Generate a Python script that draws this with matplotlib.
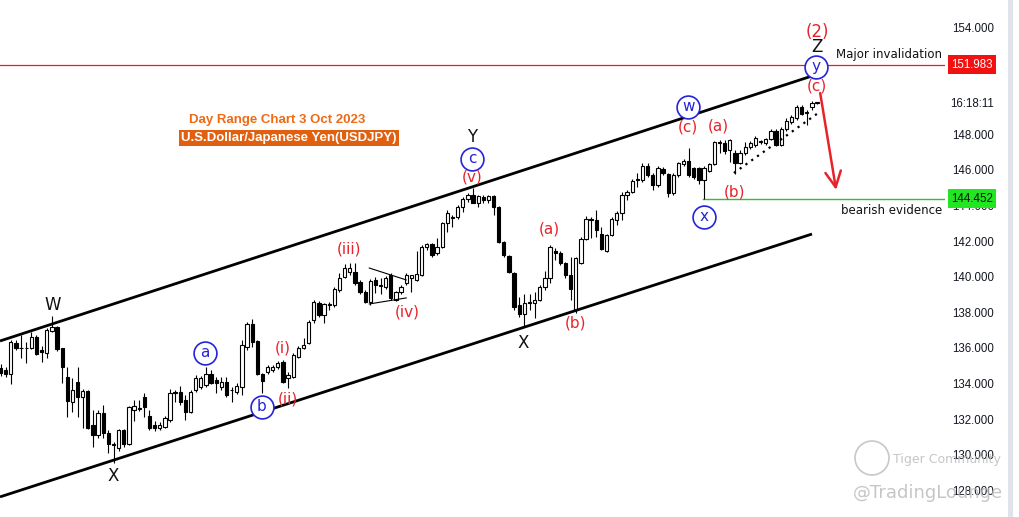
import matplotlib
matplotlib.use("Agg")
import matplotlib.pyplot as plt
from matplotlib.transforms import blended_transform_factory
from matplotlib.patches import Ellipse

# daily candles USDJPY
opens = [134.95, 134.85, 134.6, 136.35, 136.05, 136.1, 136.05, 136.7, 135.95, 135.8,
         137.05, 137.25, 136.05, 134.45, 133.05, 134.15, 133.3, 133.65, 131.75, 131.2,
         132.4, 131.3, 130.7, 130.45, 131.45, 130.7, 132.6, 132.65, 133.33, 132.26,
         131.75, 131.58, 131.64, 132.03, 133.61, 133.61, 133.16, 132.48, 133.72, 133.89,
         134.0, 134.61, 134.28, 133.89, 134.17, 133.72, 133.61, 133.89, 136.13, 137.43,
         136.47, 134.61, 134.73, 134.84, 135.01, 135.29, 134.39, 134.45, 135.57, 136.08,
         136.36, 137.65, 138.61, 137.93, 138.49, 138.49, 139.34, 140.07, 140.35, 140.35,
         139.79, 139.22, 138.66, 139.9, 139.56, 139.51, 140.18, 138.78, 139.22, 139.73,
         140.01, 139.9, 140.18, 141.75, 141.92, 141.42, 141.75, 143.1, 143.38, 143.44,
         144.0, 144.45, 144.67, 144.22, 144.56, 144.39, 144.62, 144.0, 142.03, 141.25,
         140.29, 138.49, 137.99, 138.61, 138.61, 138.78, 139.51, 140.01, 141.53, 141.42,
         140.85, 140.18, 138.21, 140.85, 142.2, 143.27, 143.27, 142.48, 141.53, 142.43,
         143.27, 143.66, 144.67, 144.84, 145.52, 145.52, 146.3, 145.8, 145.24, 146.13,
         145.85, 144.78, 145.8, 146.41, 146.58, 146.19, 146.19, 145.52, 146.02, 146.41,
         147.59, 147.59, 147.2, 147.03, 146.47, 147.03, 147.37, 147.48, 147.65, 147.59,
         147.82, 148.27, 147.48, 148.38, 148.78, 149.0, 149.62, 149.28, 149.62, 149.84]
highs = [135.2, 135.0, 136.5, 136.5, 136.8, 136.4, 137.0, 136.8, 136.2, 137.2,
         137.9, 137.3, 136.1, 135.0, 134.4, 135.0, 133.8, 133.7, 132.6, 132.6,
         132.85, 131.45, 130.8, 131.55, 131.55, 132.8, 133.15, 133.15, 133.55, 132.59,
         131.95, 131.9, 132.26, 133.8, 133.72, 133.95, 133.44, 133.72, 134.56, 134.5,
         135.01, 134.84, 134.45, 134.45, 134.45, 133.89, 134.11, 136.53, 137.54, 137.71,
         136.5, 134.67, 135.12, 135.12, 135.35, 135.4, 134.73, 135.8, 136.2, 136.64,
         137.65, 138.8, 138.7, 138.61, 138.66, 139.5, 140.3, 140.8, 140.85, 140.85,
         139.9, 139.34, 139.95, 140.07, 140.01, 140.1, 140.3, 139.3, 139.6, 140.3,
         140.2, 141.5, 141.85, 142.0, 142.0, 142.26, 143.15, 143.83, 143.55, 144.1,
         144.56, 144.78, 145.07, 144.67, 144.67, 144.67, 144.67, 144.05, 142.1, 141.3,
         140.35, 138.95, 139.1, 139.1, 139.22, 139.6, 140.4, 141.85, 141.7, 141.5,
         140.9, 141.2, 141.2, 142.3, 143.5, 143.45, 143.83, 142.88, 142.5, 143.44,
         143.78, 144.84, 144.95, 145.57, 145.9, 146.47, 146.47, 145.9, 146.3, 146.24,
         145.9, 145.9, 146.53, 146.7, 147.3, 146.24, 146.24, 146.3, 146.47, 147.7,
         147.76, 147.76, 147.82, 147.2, 147.2, 147.65, 147.7, 147.99, 147.76, 147.9,
         148.38, 148.38, 148.5, 149.0, 149.17, 149.73, 149.73, 149.45, 149.95, 149.9]
lows = [134.5, 134.45, 134.05, 135.95, 135.5, 135.25, 136.0, 135.7, 135.3, 135.5,
        137.0, 135.9, 134.1, 132.2, 132.5, 132.2, 131.6, 131.5, 130.5, 131.0,
        131.0, 130.2, 129.6, 130.3, 130.5, 130.6, 132.0, 132.55, 132.2, 131.47,
        131.4, 131.45, 131.58, 131.92, 133.04, 132.9, 132.03, 132.43, 133.61, 133.8,
        133.89, 134.05, 133.55, 133.72, 133.33, 133.04, 133.5, 133.44, 135.97, 136.13,
        134.56, 133.55, 134.6, 134.73, 134.9, 134.11, 133.83, 134.39, 135.5, 136.0,
        136.3, 137.5, 137.8, 137.48, 138.21, 138.4, 139.25, 140.0, 140.18, 139.62,
        139.1, 138.61, 138.49, 139.17, 139.1, 139.4, 138.8, 138.7, 139.1, 139.6,
        139.22, 139.85, 140.1, 141.6, 141.2, 141.3, 141.7, 142.6, 142.9, 143.3,
        143.72, 144.28, 144.2, 144.0, 144.22, 144.22, 143.55, 141.95, 141.2, 140.29,
        138.21, 137.82, 137.26, 138.21, 137.76, 138.7, 139.34, 139.73, 141.0, 140.75,
        140.01, 138.78, 138.04, 140.8, 142.15, 142.26, 142.3, 141.58, 141.45, 142.37,
        142.99, 143.27, 144.39, 144.78, 145.1, 145.41, 145.69, 144.95, 145.13, 145.8,
        144.56, 144.7, 145.69, 146.3, 145.69, 145.6, 145.3, 144.45, 145.96, 146.35,
        147.03, 147.0, 146.53, 145.86, 146.41, 146.92, 147.26, 147.37, 147.54, 147.48,
        147.76, 147.4, 147.4, 148.27, 148.66, 148.9, 149.17, 148.6, 149.45, 149.8]
closes = [134.65, 134.6, 136.4, 136.05, 136.1, 136.05, 136.7, 135.75, 135.85, 137.1,
          137.25, 136.0, 135.0, 133.1, 133.7, 133.3, 133.65, 131.6, 131.2, 132.4,
          131.3, 130.7, 130.65, 131.45, 130.7, 132.75, 132.8, 132.7, 132.76, 131.58,
          131.58, 131.75, 132.15, 133.55, 133.55, 133.04, 132.48, 133.61, 134.39, 134.39,
          134.61, 134.11, 134.11, 134.17, 133.44, 133.7, 133.95, 136.25, 137.43, 136.41,
          134.61, 134.22, 135.01, 135.01, 135.24, 134.17, 134.56, 135.69, 136.08, 136.25,
          137.54, 138.66, 137.93, 138.55, 138.55, 139.39, 140.01, 140.57, 140.57, 139.73,
          139.22, 138.66, 139.84, 139.62, 139.56, 140.01, 138.89, 139.22, 139.51, 140.18,
          140.18, 140.24, 141.75, 141.92, 141.3, 141.75, 143.1, 143.66, 143.4, 144.0,
          144.45, 144.67, 144.22, 144.62, 144.39, 144.62, 144.0, 142.03, 141.3, 140.35,
          138.38, 137.99, 138.61, 138.6, 138.78, 139.51, 140.01, 141.75, 141.42, 140.85,
          140.18, 139.39, 141.14, 142.2, 143.33, 143.3, 142.71, 141.64, 142.43, 143.33,
          143.66, 144.67, 144.84, 145.46, 145.55, 146.3, 145.8, 145.24, 146.19, 145.9,
          144.78, 145.8, 146.47, 146.58, 145.8, 145.69, 145.52, 146.19, 146.41, 147.65,
          147.65, 147.15, 147.76, 146.47, 147.03, 147.37, 147.59, 147.88, 147.65, 147.82,
          148.27, 147.48, 148.38, 148.83, 149.06, 149.62, 149.23, 149.3, 149.84, 149.85]

price_ticks = [154, 148, 146, 144, 142, 140, 138, 136, 134, 132, 130, 128]
invalidation = 151.983
bearish_level = 144.452
timer_text = "16:18:11"

# channel + drawings (candle index, price)
upper_channel = ([-0.1, 158.0], [136.47, 151.36])
lower_channel = ([-0.1, 158.0], [127.71, 142.48])
tri_upper = ([71.8, 79.0], [140.57, 139.9])
tri_lower = ([71.8, 79.0], [138.55, 138.89])
dotted = ([142.8, 159.2], [145.91, 149.28])

black_labels = [("W", 10.2, 138.5), ("X", 21.9, 128.9), ("Y", 91.8, 147.95),
                ("X", 101.75, 136.36), ("Z", 159.0, 153.0)]
circle_labels = [("a", 39.8, 135.8), ("b", 50.9, 132.76), ("c", 91.8, 146.7),
                 ("w", 133.9, 149.62), ("x", 137.0, 143.44), ("y", 158.8, 151.87)]
red_labels = [("(i)", 55.0, 136.08), ("(ii)", 56.0, 133.21), ("(iii)", 67.9, 141.64),
              ("(iv)", 79.2, 138.1), ("(v)", 91.8, 145.69), ("(a)", 106.8, 142.76),
              ("(b)", 111.9, 137.48), ("(c)", 133.9, 148.49), ("(a)", 139.7, 148.55),
              ("(b)", 143.0, 144.84), ("(c)", 159.0, 150.8)]

RED = "#e8222a"
BLUE = "#2424d8"

fig = plt.figure(figsize=(10.19, 5.17), dpi=100)
ax = fig.add_axes([0, 0, 945 / 1019, 1])
ax.set_xlim(-0.1, 183.9)
ax.set_ylim(126.58, 155.63)
ax.axis("off")

# candles
for i, (o, h, l, c) in enumerate(zip(opens, highs, lows, closes)):
    ax.vlines(i, l, h, color="black", lw=0.8, zorder=2)
    up = c >= o
    bottom = min(o, c)
    height = max(abs(c - o), 0.04)
    ax.bar(i, height, bottom=bottom, width=0.64, color="white" if up else "black",
           edgecolor="black", linewidth=0.8, zorder=3)

# channel lines
ax.plot(*upper_channel, color="black", lw=2.0, zorder=4, solid_capstyle="butt")
ax.plot(*lower_channel, color="black", lw=2.0, zorder=4, solid_capstyle="butt")
ax.plot(*tri_upper, color="black", lw=0.8, zorder=4)
ax.plot(*tri_lower, color="black", lw=0.8, zorder=4)
ax.plot(*dotted, color="black", lw=1.6, ls=(0, (1, 2.2)), zorder=4)

# levels
ax.axhline(invalidation, color="#ee1c1c", lw=0.9, zorder=1)
ax.plot([136.8, 183.9], [bearish_level, bearish_level], color="#2ec02e", lw=1.0, zorder=1)

# arrow
ax.annotate("", xy=(162.7, 144.96), xytext=(159.6, 150.4),
            arrowprops=dict(arrowstyle="->", color=RED, lw=1.8, mutation_scale=28,
                            shrinkA=0, shrinkB=0), zorder=5)

for txt, x, y in black_labels:
    ax.text(x, y, txt, ha="center", va="center", fontsize=12, color="#111111", zorder=6)
for txt, x, y in circle_labels:
    ax.scatter([x], [y], s=270, facecolors="white", edgecolors=BLUE, linewidths=1.2, zorder=6)
    ax.text(x, y + 0.05, txt, ha="center", va="center", fontsize=11, color=BLUE, zorder=7)
for txt, x, y in red_labels:
    ax.text(x, y, txt, ha="center", va="center", fontsize=11, color=RED, zorder=6)
ax.text(159.0, 153.83, "(2)", ha="center", va="center", fontsize=12, color=RED, zorder=6)

ax.text(173.0, 152.54, "Major invalidation", ha="center", va="center", fontsize=8.5,
        color="#111111", family="DejaVu Sans")
ax.text(173.6, 143.83, "bearish evidence", ha="center", va="center", fontsize=8.5,
        color="#111111", family="DejaVu Sans")

# titles
ax.text(53.8, 148.89, "Day Range Chart 3 Oct 2023", ha="center", va="center",
        fontsize=9.5, fontweight="bold", color="#ee6a14", family="Liberation Sans")
ax.text(56.2, 147.88, "U.S.Dollar/Japanese Yen(USDJPY)", ha="center", va="center",
        fontsize=9.5, fontweight="bold", color="white", family="Liberation Sans",
        bbox=dict(boxstyle="square,pad=0.15", fc="#e0600f", ec="none"))

# right price scale
tr = blended_transform_factory(fig.transFigure, ax.transData)
for p in price_ticks:
    ax.text(994 / 1019, p, f"{p:.3f}", transform=tr, ha="right", va="center",
            fontsize=8.3, color="#131722", family="Liberation Sans", clip_on=False)
ax.text(994 / 1019, 149.78, timer_text, transform=tr, ha="right", va="center",
        fontsize=8.3, color="#131722", family="Liberation Sans", clip_on=False)
ax.text(972 / 1019, invalidation, f"{invalidation:.3f}", transform=tr, ha="center",
        va="center", fontsize=8.3, color="white", family="Liberation Sans",
        bbox=dict(boxstyle="square,pad=0.3", fc="#f21111", ec="none"), clip_on=False)
ax.text(972 / 1019, bearish_level, f"{bearish_level:.3f}", transform=tr, ha="center",
        va="center", fontsize=8.3, color="#111111", family="Liberation Sans",
        bbox=dict(boxstyle="square,pad=0.3", fc="#22e622", ec="none"), clip_on=False)

# side band
fig.patches.append(plt.Rectangle((1008 / 1019, 0), 5 / 1019, 1, transform=fig.transFigure,
                                 fc="#e1e3ea", ec="none"))

# watermark
fig.patches.append(Ellipse((872 / 1019, 1 - 458 / 517), 34 / 1019, 34 / 517,
                           transform=fig.transFigure, fc="none", ec="#c8c8c8", lw=1.2))
fig.text(947 / 1019, 1 - 460 / 517, "Tiger Community", ha="center", va="center",
         fontsize=9, color="#b8b8b8", alpha=0.8)
fig.text(928 / 1019, 1 - 493 / 517, "@TradingLounge", ha="center", va="center",
         fontsize=13, color="#b8b8b8", alpha=0.8)

fig.savefig("out.png", dpi=100, facecolor="white")
